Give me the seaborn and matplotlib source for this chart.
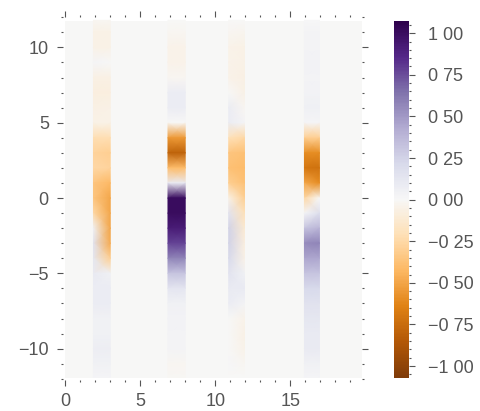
import numpy as np
import matplotlib
matplotlib.use("Agg")
import matplotlib.pyplot as plt
import seaborn as sns
from matplotlib.ticker import MultipleLocator, FuncFormatter

# --- values (top to bottom) ---
y_levels = [11.8, 11, 10, 9, 8, 7, 6, 5, 4, 3, 2, 1, 0,
            -1, -2, -3, -4, -5, -6, -7, -8, -9, -10, -11, -11.9]

strip_left_x = [1.88, 6.85, 10.9, 15.95]
strip_right_x = [3.0, 8.0, 11.95, 16.95]

s1_left = [-0.02, -0.05, -0.05, 0.02, -0.06, -0.08, -0.06, -0.05, -0.22, -0.28, -0.25, -0.35, -0.35,
           -0.25, 0.05, 0.15, 0.12, 0.10, 0.08, 0.08, 0.05, 0.05, 0.07, 0.05, 0.02]
s1_right = [-0.02, -0.05, -0.05, 0.0, -0.06, -0.08, -0.05, -0.05, -0.22, -0.30, -0.28, -0.42, -0.50,
            -0.50, -0.50, -0.48, -0.30, 0.05, 0.08, 0.08, 0.05, 0.05, 0.07, 0.05, 0.02]

s2_left = [0.0, -0.02, -0.04, -0.04, -0.02, 0.08, 0.08, 0.0, -0.55, -0.80, -0.40, 0.10, 1.0,
           1.0, 0.92, 0.78, 0.58, 0.32, 0.13, 0.05, 0.04, 0.03, 0.03, -0.02, -0.01]
s2_right = s2_left

s3_left = [0.0, -0.02, -0.04, -0.04, -0.04, 0.0, 0.08, 0.08, -0.20, -0.35, -0.38, -0.30, -0.05,
           0.15, 0.25, 0.25, 0.22, 0.15, 0.10, 0.08, 0.0, 0.0, 0.0, 0.01, 0.0]
s3_right = [0.0, -0.03, -0.05, -0.05, -0.06, -0.05, -0.02, 0.02, -0.25, -0.38, -0.40, -0.38, -0.30,
            -0.20, -0.12, -0.08, -0.05, 0.05, 0.10, 0.03, -0.04, -0.05, -0.04, -0.02, 0.0]

s4_left = [0.01, 0.03, 0.03, 0.04, 0.03, 0.04, 0.06, 0.02, -0.30, -0.60, -0.70, -0.50, -0.25,
           0.02, 0.32, 0.55, 0.45, 0.32, 0.22, 0.16, 0.12, 0.10, 0.10, 0.05, 0.02]
s4_right = [0.01, 0.03, 0.03, 0.04, 0.03, 0.04, 0.06, 0.02, -0.30, -0.60, -0.72, -0.60, 0.0,
            0.18, 0.38, 0.58, 0.45, 0.32, 0.22, 0.16, 0.12, 0.10, 0.10, 0.05, 0.02]

field_x = [0.0, 19.77]
field_y = [-11.92, 11.77]
cbar_ticks = [-1.0, -0.75, -0.5, -0.25, 0.0, 0.25, 0.5, 0.75, 1.0]

sns.set_theme(style="ticks")
plt.rcParams['font.family'] = ['Liberation Sans', 'DejaVu Sans']
grey = '#555555'

fig = plt.figure(figsize=(4.81, 4.11), dpi=100)
ax = fig.add_axes([0.1304, 0.0754, 0.6216, 0.8825])
cax = fig.add_axes([0.819, 0.081, 0.0312, 0.8686])

cmap = sns.color_palette("PuOr", as_cmap=True)
norm = plt.Normalize(-1.07, 1.075)

# zero background of the field
ax.pcolormesh(field_x, field_y, [[0.0]], cmap=cmap, norm=norm, shading='flat')

strips = [(s1_left, s1_right), (s2_left, s2_right), (s3_left, s3_right), (s4_left, s4_right)]
y = np.array(y_levels)
for xl, xr, (cl, cr) in zip(strip_left_x, strip_right_x, strips):
    X = np.column_stack([np.full(len(y), xl), np.full(len(y), xr)])
    Y = np.column_stack([y, y])
    C = np.column_stack([cl, cr])
    mesh = ax.pcolormesh(X, Y, C, shading='gouraud', cmap=cmap, norm=norm)

ax.set_xlim(-0.17, 19.77)
ax.set_ylim(-12.08, 12.0)
for s in ax.spines.values():
    s.set_visible(False)
ax.xaxis.set_major_locator(MultipleLocator(5))
ax.xaxis.set_minor_locator(MultipleLocator(1))
ax.yaxis.set_major_locator(MultipleLocator(5))
ax.yaxis.set_minor_locator(MultipleLocator(1))
ax.tick_params(which='both', direction='out', top=True, right=True,
               labeltop=False, labelright=False, colors=grey, labelcolor=grey,
               width=0.8, labelsize=13)
ax.tick_params(which='major', length=4)
ax.tick_params(axis='y', which='major', pad=6)
ax.tick_params(axis='x', which='major', pad=5)
ax.tick_params(which='minor', length=1.5)

cb = fig.colorbar(mesh, cax=cax)
cb.outline.set_visible(False)
cb.set_ticks(cbar_ticks)
cb.ax.yaxis.set_minor_locator(MultipleLocator(0.05))
cb.ax.yaxis.set_major_formatter(FuncFormatter(
    lambda v, p: f"{v:.2f}".replace(".", " ").replace("-", "\u2212")))
cb.ax.tick_params(which='both', direction='out', colors=grey, labelcolor=grey,
                  width=0.8, labelsize=13)
cb.ax.tick_params(which='major', length=4, pad=10)
cb.ax.tick_params(which='minor', length=1.5)

fig.savefig("out.png", dpi=100)
